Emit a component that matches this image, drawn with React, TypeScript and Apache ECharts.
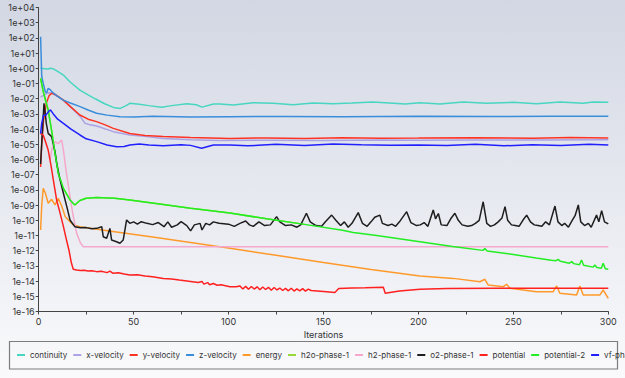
import React, { useEffect, useRef } from 'react';
import * as echarts from 'echarts';

const seriesNames = [
  'continuity', 'x-velocity', 'y-velocity', 'z-velocity', 'energy', 'h2o-phase-1',
  'h2-phase-1', 'o2-phase-1', 'potential', 'potential-2', 'vf-phase-2',
];
const seriesColors = [
  '#48d6c0', '#aaa2e4', '#ff3322', '#3a8ddb', '#ff9a2a', '#9ad83a',
  '#f5a8cb', '#1e1e1e', '#ff2020', '#22ee22', '#2020ff',
];

const continuity = [
  [1, 1.0], [3, 0.95], [5, 0.89], [6, 1.0], [7.5, 0.95], [10, 0.63], [13, 0.36], [16.4, 0.13],
  [21.7, 0.037], [26, 0.018], [30, 0.0095], [35, 0.0045], [40, 0.0025], [43, 0.0023], [46, 0.0035],
  [48, 0.005], [53, 0.0043], [58, 0.0035], [64.7, 0.0027], [70, 0.0035], [78, 0.0047], [83, 0.004],
  [86, 0.0028], [92, 0.0045], [95.5, 0.00447], [102.5, 0.00389], [113, 0.0055], [123.5, 0.005],
  [134, 0.00407], [144.6, 0.00525], [155, 0.00468], [165, 0.0052], [176, 0.006], [186.7, 0.005],
  [193, 0.0045], [200.8, 0.0055], [211.3, 0.00447], [223.6, 0.006], [235.9, 0.005], [249.9, 0.00575],
  [262.2, 0.00468], [274.5, 0.006], [286.8, 0.005], [292, 0.006], [300, 0.00575],
];

const xVelocity = [
  [1, 0.0126], [3, 0.018], [5, 0.025], [6.8, 0.024], [10, 0.014], [13, 0.0076], [17, 0.0028],
  [21.7, 7.1e-4], [24.4, 2.4e-4], [27, 1.9e-4], [30.5, 1.6e-4], [39.3, 6.8e-5], [48, 4.1e-5],
  [56.9, 3.2e-5], [65.6, 2.45e-5], [80, 2.0e-5], [95, 1.8e-5], [120, 1.85e-5], [150, 1.8e-5],
  [180, 1.9e-5], [200, 1.85e-5], [230, 1.95e-5], [260, 1.9e-5], [300, 2.0e-5],
];

const yVelocity = [
  [1, 3.2e-7], [1.6, 1e-5], [2.5, 3.2e-4], [4, 0.005], [5.5, 0.016], [6.8, 0.023], [9, 0.018],
  [13, 0.0081], [17, 0.0028], [21.7, 8.5e-4], [26, 4.5e-4], [30.5, 3.1e-4], [35, 1.9e-4],
  [39.3, 1.12e-4], [48, 5.2e-5], [56, 3.8e-5], [65.6, 3.2e-5], [80, 2.75e-5], [100.7, 2.45e-5],
  [120, 2.63e-5], [140, 2.4e-5], [160, 2.69e-5], [180, 2.51e-5], [200, 2.57e-5], [230, 2.69e-5],
  [260, 2.51e-5], [280, 2.75e-5], [300, 2.63e-5],
];

const zVelocity = [
  [1, 120], [1.6, 0.3], [2.4, 0.1], [3.5, 0.028], [4.2, 0.025], [5, 0.048], [6, 0.04], [7, 0.028],
  [10, 0.014], [13, 0.0081], [17, 0.005], [21.8, 0.003], [26, 0.0018], [30.5, 0.0011], [36, 8.3e-4],
  [42.8, 6.6e-4], [50, 6.3e-4], [60, 6.9e-4], [80, 6.3e-4], [100, 6.6e-4], [130, 6.8e-4],
  [160, 6.5e-4], [200, 6.9e-4], [240, 6.8e-4], [270, 7.0e-4], [300, 7.1e-4],
];

const energy = [
  [1, 2.3e-11], [1.6, 1e-9], [2.4, 1.26e-8], [3.5, 6.3e-9], [5, 1.32e-9], [6.8, 2.4e-9],
  [8.6, 1.02e-9], [10.3, 2.8e-9], [12.1, 8.7e-10], [14, 1.74e-10], [16.5, 8.1e-11], [18.2, 5e-11],
  [21.7, 3.8e-11], [40, 1.78e-11], [60, 7.9e-12], [80, 3.5e-12], [100.7, 1.45e-12], [125, 5e-13],
  [150, 1.7e-13], [175, 5.9e-14], [200.8, 2.2e-14], [218.4, 1.51e-14], [232.4, 9.1e-15],
  [235, 1.32e-14], [236.8, 5.5e-15], [244.7, 4.3e-15], [246.4, 6.2e-15], [248.2, 3.4e-15],
  [262.2, 2e-15], [271, 2e-15], [272.8, 4.8e-15], [274.5, 1.58e-15], [283.3, 1.23e-15],
  [285, 4.8e-15], [286.8, 1.23e-15], [295.6, 1.23e-15], [297.3, 2.6e-15], [300, 7.4e-16],
];

const h2Phase1 = [
  [6, 9.3e-7], [7, 5e-6], [8.6, 1.48e-5], [10.3, 1.12e-5], [12.1, 1.9e-5], [13, 4.2e-6],
  [14.5, 1.6e-7], [16.5, 3.5e-9], [18, 2.5e-10], [20, 1.38e-11], [22, 3.2e-12], [23.5, 1.82e-12],
  [50, 1.82e-12], [100, 1.82e-12], [150, 1.82e-12], [200, 1.82e-12], [250, 1.82e-12], [300, 1.82e-12],
];

const o2Phase1 = [
  [1, 5e-7], [2, 1e-4], [2.8, 5e-3], [3.5, 1e-3], [4, 2.4e-4], [5, 5.2e-5], [6.8, 3.2e-5],
  [8.6, 3.2e-6], [9.5, 5.6e-7], [11, 6.3e-8], [13, 6e-9], [15, 6.3e-10], [16.5, 1.05e-10],
  [19, 3.8e-11], [22, 3.2e-11], [25, 3.3e-11], [28, 2.8e-11], [30.5, 2.95e-11], [33.2, 3.8e-11],
  [34, 8.3e-12], [35.8, 6.6e-12], [37.5, 2.95e-11], [38.4, 5e-12], [41, 3.9e-12], [42.8, 3.1e-12],
  [44.5, 5e-12], [46.3, 1.05e-10], [48, 6.3e-11], [50, 7.9e-11], [52, 5.6e-11], [54, 8.1e-11],
  [57, 6.3e-11], [60, 5.2e-11], [63, 7.1e-11], [66, 3.8e-11], [68, 7.9e-11], [70, 3.5e-11],
  [73, 5e-11], [75, 8.1e-11], [78, 4.5e-11], [80, 2e-11], [82, 5e-11], [85, 6.3e-11], [86, 2.3e-11],
  [88, 6.3e-11], [90, 5e-11], [92, 7.9e-11], [95, 6.3e-11], [100, 5.6e-11], [103, 4e-11],
  [106, 6.3e-11], [109, 8.9e-11], [111, 5e-11], [113, 4e-11], [116, 7.9e-11], [119, 4.5e-11],
  [122, 5e-11], [125.3, 1.74e-10], [127, 7.9e-11], [130, 4.5e-11], [133, 5e-11], [136, 3.5e-11],
  [138, 5e-11], [141, 2.9e-10], [143, 7.9e-11], [146, 4.5e-11], [149, 4e-11], [151, 7.9e-11],
  [154.3, 2.2e-10], [156.5, 1e-10], [159, 4.5e-11], [161, 7.9e-11], [163, 3.5e-11], [165, 6.3e-11],
  [168.3, 3.2e-10], [170.5, 6.3e-11], [173, 4e-11], [175, 7.9e-11], [177, 1.58e-10], [179.7, 2.2e-10],
  [181, 6.3e-11], [184, 4.5e-11], [186, 5.6e-11], [188, 4e-11], [190, 7.9e-11], [193.8, 3.7e-10],
  [196, 7.1e-11], [199, 4.5e-11], [201, 5e-11], [203, 7.1e-11], [205, 4e-11], [207.8, 4.8e-10],
  [209, 1.26e-10], [210.5, 2.8e-10], [212, 5e-11], [215, 4.5e-11], [217, 1.26e-10], [219.2, 2.9e-10],
  [221, 1e-10], [223, 5e-11], [226, 4e-11], [228, 4.5e-11], [230, 6.3e-11], [232, 1e-10],
  [234.1, 1.66e-9], [236, 6.3e-11], [238, 4e-11], [240, 5e-11], [242, 7.9e-11], [244, 1.41e-10],
  [245.6, 7.9e-10], [247, 1e-10], [249, 5e-11], [251, 4.5e-11], [253, 4e-11], [255, 1e-10],
  [257, 2.2e-10], [259, 7.9e-11], [261, 5e-11], [263, 4.5e-11], [265, 4e-11], [267, 7.9e-11],
  [269, 5e-11], [271.9, 8.7e-10], [273.5, 7.9e-11], [275.5, 4.5e-11], [277, 6.3e-11], [279, 3.5e-11],
  [281, 1e-10], [282.5, 2e-10], [284.2, 1.02e-9], [285.5, 7.9e-11], [287.5, 4.5e-11], [289.5, 6.3e-11],
  [291, 3.5e-11], [293.8, 2.2e-10], [295, 7.9e-11], [296.5, 4.3e-10], [298, 7.9e-11], [300, 5.8e-11],
];

const potential = [
  [1, 5e-5], [2.4, 4e-5], [3.5, 1.6e-5], [5, 4.2e-6], [6.5, 4e-7], [7.7, 4.5e-8], [9.5, 2e-9],
  [11.2, 3.2e-10], [13, 4e-11], [14.5, 6e-12], [16, 1e-12], [17.2, 1.6e-13], [18.2, 6e-14],
  [20, 5.4e-14], [22, 5.0e-14], [24, 5.2e-14], [26, 4.6e-14], [28, 4.8e-14], [30.5, 4.2e-14],
  [33, 4.4e-14], [36, 3.6e-14], [37.5, 4.5e-14], [39, 3.3e-14], [42, 3.5e-14], [45, 2.9e-14],
  [48, 2.5e-14], [52, 2.6e-14], [56, 2.2e-14], [60, 1.9e-14], [65.6, 1.5e-14], [70, 1.35e-14],
  [74, 1.17e-14], [80, 9.5e-15], [84, 8e-15], [86, 9.5e-15], [87, 6.3e-15], [89, 8e-15],
  [90, 5.8e-15], [92, 7e-15], [94, 5.3e-15], [96, 5.8e-15], [100.7, 4.3e-15], [104, 4.2e-15],
  [106, 4.8e-15], [107.5, 3.0e-15], [109, 4.5e-15], [110.5, 2.9e-15], [112, 4.4e-15], [113.5, 3.0e-15],
  [115, 4.2e-15], [116.5, 2.7e-15], [118, 4.1e-15], [119.5, 2.8e-15], [121, 3.9e-15], [122.5, 2.5e-15],
  [124, 3.8e-15], [125.5, 2.6e-15], [127, 3.5e-15], [128.5, 2.4e-15], [130, 3.3e-15], [131.5, 2.3e-15],
  [133, 3.4e-15], [134.5, 2.2e-15], [136, 3.1e-15], [137.5, 2.3e-15], [139, 3.2e-15], [140.5, 2.2e-15],
  [142, 3.0e-15], [143.5, 2.4e-15], [150, 2.1e-15], [156, 1.8e-15], [158, 3.3e-15], [165, 3.5e-15],
  [172, 3.7e-15], [181.5, 4.0e-15], [182.5, 1.6e-15], [190, 2.2e-15], [200.8, 2.9e-15],
  [215, 3.2e-15], [240, 3.4e-15], [270, 3.4e-15], [300, 3.4e-15],
];

const potential2 = [
  [1, 0.22], [2.4, 0.029], [5, 1.8e-3], [6.8, 7.9e-5], [8.6, 2.5e-6], [10.3, 1.26e-7], [13, 1.26e-8],
  [16.5, 2.2e-9], [19, 1.02e-9], [21.7, 2e-9], [25, 2.8e-9], [30.5, 3.2e-9], [40, 2.8e-9],
  [48, 2.2e-9], [65.6, 1.1e-9], [80, 6.3e-10], [100.7, 3.0e-10], [120, 1.26e-10], [140, 5.4e-11],
  [160, 2.2e-11], [165.7, 1.6e-11], [178, 1e-11], [200.8, 3.9e-12], [218, 1.9e-12], [234, 1.05e-12],
  [235, 1.41e-12], [236.2, 9.5e-13], [250, 5.6e-13], [262, 3.3e-13], [270, 2.34e-13], [272.5, 2.19e-13],
  [273.6, 2.69e-13], [274.8, 2.0e-13], [279.5, 1.51e-13], [280.7, 1.91e-13], [281.8, 1.41e-13],
  [284.8, 1.2e-13], [285.9, 2.45e-13], [287, 1.1e-13], [292, 8.3e-14], [292.9, 1.15e-13],
  [294, 7.9e-14], [296.3, 7.1e-14], [297.3, 1.48e-13], [298.4, 6.6e-14], [300, 6.0e-14],
];

const h2oPhase1 = [
  [1, 0.22], [2.4, 0.029], [5, 1.8e-3], [6.8, 7.9e-5], [8.6, 2.5e-6], [10.3, 1.26e-7], [13, 1.26e-8],
  [16.5, 2.2e-9], [19, 1.02e-9], [21.7, 2e-9], [25, 2.8e-9], [30.5, 3.2e-9], [40, 2.8e-9],
  [48, 2.2e-9], [65.6, 1.1e-9], [80, 6.3e-10], [100.7, 3.0e-10], [120, 1.26e-10], [140, 5.4e-11],
];

const vfPhase2 = [
  [1, 5e-5], [1.6, 2.5e-4], [2.5, 7.9e-4], [4, 8.9e-4], [5.5, 1.6e-3], [6.2, 1.8e-3], [7.7, 1e-3],
  [10, 4.5e-4], [13, 2.4e-4], [17, 1e-4], [21.7, 4.1e-5], [25, 2.3e-5], [30.5, 1.5e-5], [36, 8.9e-6],
  [41, 6.9e-6], [45, 7.1e-6], [48, 8.9e-6], [53, 1.05e-5], [58, 8.9e-6], [65.6, 7.9e-6], [75, 9.5e-6],
  [80, 8.5e-6], [85.8, 5.5e-6], [92, 8.9e-6], [100.7, 8.9e-6], [110, 7.9e-6], [125, 1e-5],
  [140, 8.3e-6], [155, 1.05e-5], [170, 9.3e-6], [185, 8.7e-6], [200, 9.1e-6], [215, 8.3e-6],
  [230, 1e-5], [245, 7.9e-6], [260, 9.3e-6], [275, 8.3e-6], [290, 1e-5], [300, 8.9e-6],
];

const seriesData = [
  continuity, xVelocity, yVelocity, zVelocity, energy, h2oPhase1,
  h2Phase1, o2Phase1, potential, potential2, vfPhase2,
];

const xAxisName = 'Iterations';
const FONT = 'Inter, "Noto Sans", sans-serif';

function fmtExp(v: number): string {
  const e = Math.round(Math.log10(v));
  const s = e < 0 ? '-' : '+';
  return '1e' + s + String(Math.abs(e)).padStart(2, '0');
}

export default function App() {
  const ref = useRef<HTMLDivElement>(null);
  useEffect(() => {
    if (!ref.current) return;
    const chart = echarts.init(ref.current, null, { renderer: 'svg' });
    chart.setOption({
      animation: false,
      backgroundColor: new echarts.graphic.LinearGradient(0, 0, 0, 1, [
        { offset: 0, color: '#d2d7e3' },
        { offset: 1, color: '#fafafc' },
      ]),
      grid: { left: 38.7, right: 16.7, top: 7.5, bottom: 66.5, containLabel: false },
      xAxis: {
        type: 'value',
        min: 0,
        max: 300,
        interval: 25,
        name: xAxisName,
        nameLocation: 'middle',
        nameGap: 18,
        nameTextStyle: { fontSize: 9, color: '#333', fontFamily: FONT },
        axisLine: { show: true, lineStyle: { color: '#444', width: 1 } },
        axisTick: { show: true, length: 3, lineStyle: { color: '#444' } },
        axisLabel: {
          fontSize: 9,
          color: '#333',
          fontFamily: FONT,
          margin: 5,
          formatter: (v: number) => (v % 50 === 0 ? String(v) : ''),
        },
        splitLine: { show: false },
      },
      yAxis: {
        type: 'log',
        logBase: 10,
        min: 1e-16,
        max: 1e4,
        interval: 1,
        axisLine: { show: true, lineStyle: { color: '#444', width: 1 } },
        axisTick: { show: true, length: 3, lineStyle: { color: '#444' } },
        axisLabel: { fontSize: 9, color: '#333', fontFamily: FONT, margin: 4, formatter: fmtExp },
        splitLine: { show: false },
      },
      legend: {
        data: seriesNames,
        left: 17,
        top: 351,
        width: 3000,
        padding: 0,
        itemWidth: 8,
        itemHeight: 2,
        itemGap: 6,
        icon: 'rect',
        textStyle: { fontSize: 8, color: '#333', fontFamily: FONT },
      },
      graphic: [
        {
          type: 'rect',
          silent: true,
          shape: { x: 9.5, y: 341.5, width: 608, height: 27.5 },
          style: { fill: 'none', stroke: '#7d7d7d', lineWidth: 1.2 },
        },
      ],
      series: seriesNames.map((name, i) => ({
        name,
        type: 'line',
        data: seriesData[i],
        showSymbol: false,
        symbol: 'none',
        color: seriesColors[i],
        lineStyle: { width: 1.5, color: seriesColors[i] },
      })),
    });
    return () => chart.dispose();
  }, []);
  return (
    <div
      ref={ref}
      style={{ position: 'fixed', left: 0, top: 0, width: 625, height: 378 }}
    />
  );
}
